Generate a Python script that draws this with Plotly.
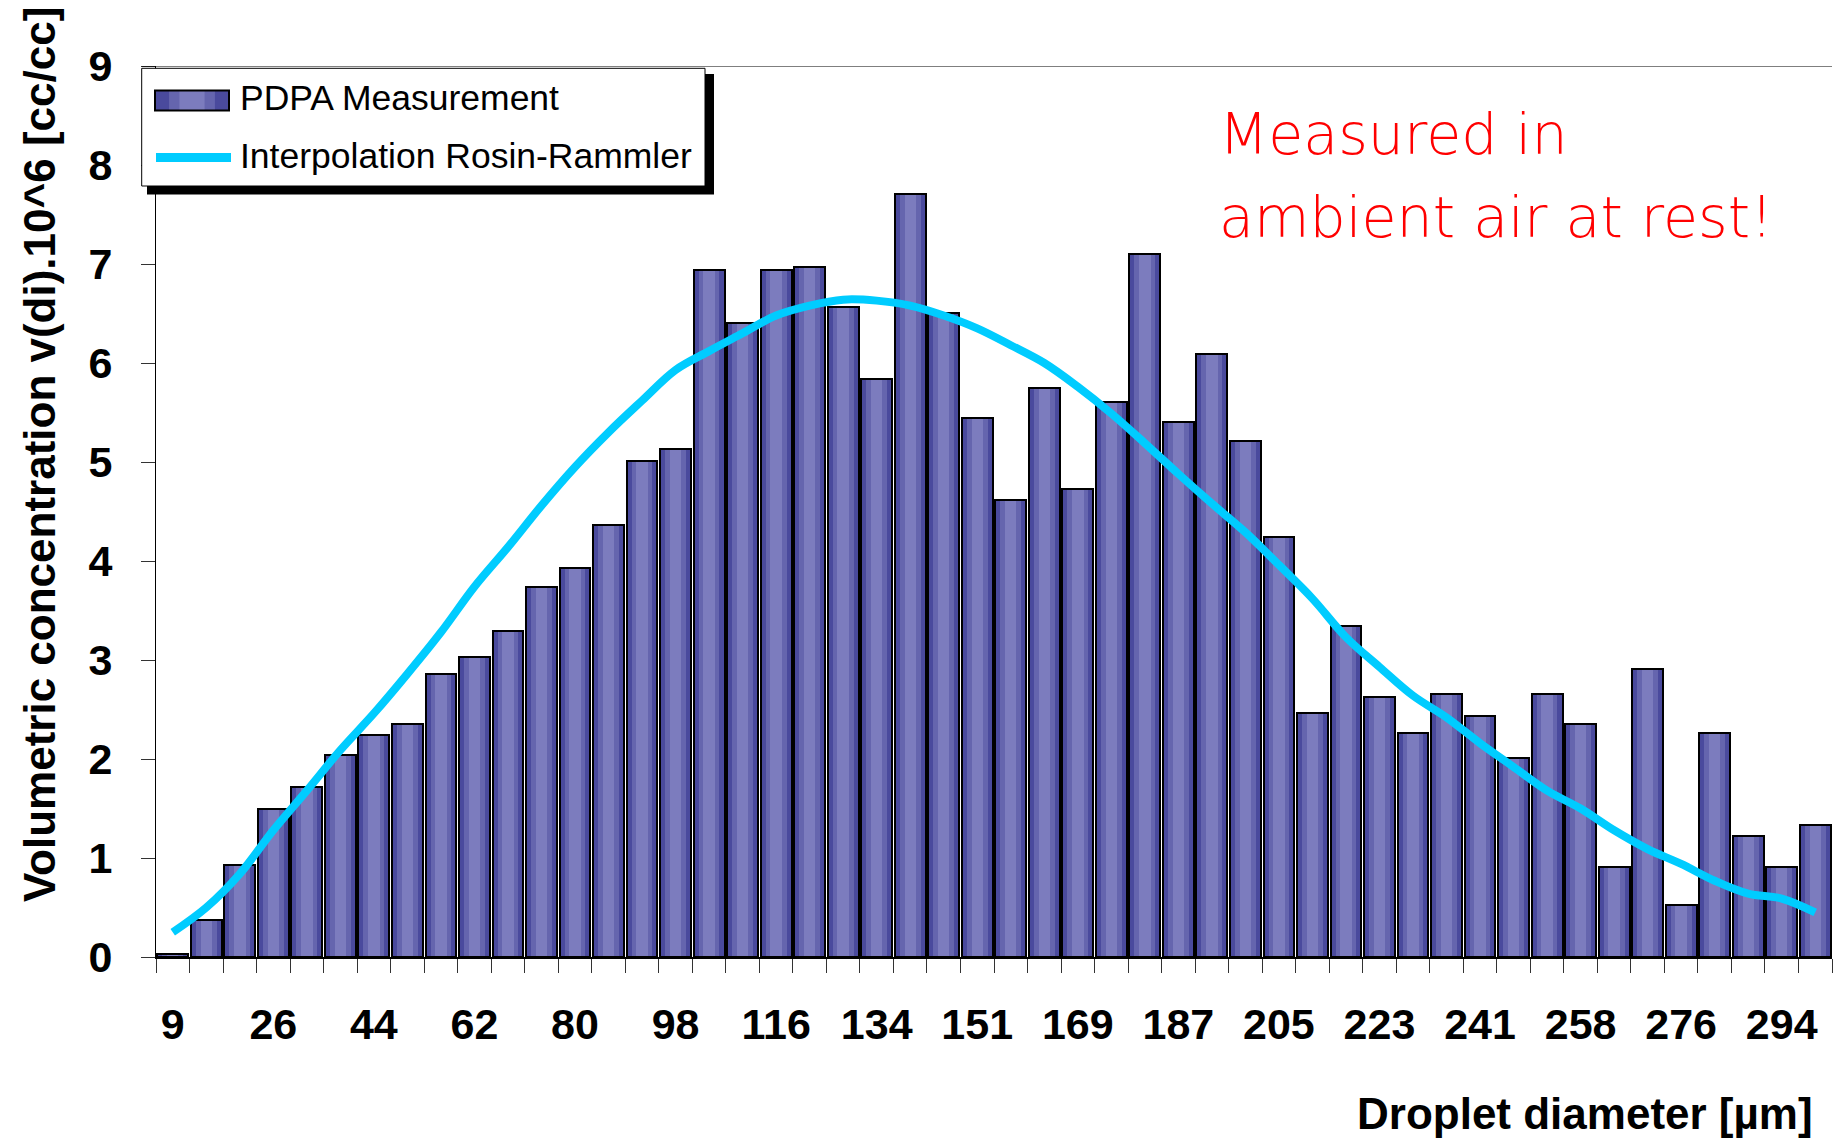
import plotly.graph_objects as go

# Droplet size classes (µm) and measured volumetric concentration per class
diameters = [9, 15, 21, 26, 32, 38, 44, 50, 56, 62, 68, 74, 80, 86, 92, 98, 104,
             110, 116, 122, 128, 134, 140, 145, 151, 157, 163, 169, 175, 181, 187,
             193, 199, 205, 211, 217, 223, 229, 235, 241, 247, 253, 258, 264, 270,
             276, 282, 288, 294, 300]

pdpa = [0.03, 0.37, 0.93, 1.50, 1.72, 2.04, 2.24, 2.35, 2.86, 3.03,
        3.29, 3.74, 3.93, 4.36, 5.01, 5.13, 6.94, 6.40, 6.94, 6.97,
        6.57, 5.84, 7.71, 6.51, 5.44, 4.62, 5.75, 4.73, 5.61, 7.10,
        5.40, 6.09, 5.21, 4.24, 2.46, 3.34, 2.63, 2.26, 2.66, 2.43,
        2.01, 2.66, 2.35, 0.91, 2.91, 0.53, 2.26, 1.22, 0.91, 1.33]

rosin_rammler = [0.25, 0.50, 0.84, 1.28, 1.68, 2.09, 2.46, 2.86, 3.28, 3.74,
                 4.14, 4.56, 4.95, 5.30, 5.62, 5.93, 6.12, 6.30, 6.48, 6.58,
                 6.64, 6.63, 6.58, 6.48, 6.35, 6.18, 6.00, 5.76, 5.49, 5.19,
                 4.88, 4.58, 4.29, 3.96, 3.62, 3.23, 2.93, 2.64, 2.42, 2.16,
                 1.92, 1.68, 1.50, 1.28, 1.09, 0.94, 0.77, 0.64, 0.59, 0.45]

tick_labels = ["9", "26", "44", "62", "80", "98", "116", "134", "151", "169",
               "187", "205", "223", "241", "258", "276", "294"]

pos = list(range(len(diameters)))
tick_pos = pos[::3]

W, H = 1834, 1138
ML, MR, MT, MB = 156, 2, 66, 181
PW, PH = W - ML - MR, H - MT - MB

def px(xp):
    return (xp - ML) / PW

def py(yp):
    return 1 - (yp - MT) / PH

DARK = "#4a4a9d"
MID = "#6565ae"
LIGHT = "#7c7cbe"
CYAN = "#00ccff"
FONT = "Liberation Sans, Arial, sans-serif"

fig = go.Figure()

# shaded bars: dark body, lighter middle band, light centre band, outline on top
for width, colour in [(0.92, DARK), (0.62, MID), (0.34, LIGHT)]:
    fig.add_trace(go.Bar(x=pos, y=pdpa, width=width, marker_color=colour,
                         marker_line_width=0, showlegend=False, hoverinfo="skip"))
fig.add_trace(go.Bar(x=pos, y=pdpa, width=0.92, name="PDPA Measurement",
                     marker=dict(color="rgba(0,0,0,0)",
                                 line=dict(color="black", width=2)),
                     showlegend=False,
                     customdata=diameters,
                     hovertemplate="%{customdata} µm: %{y}<extra></extra>"))

fig.add_trace(go.Scatter(x=pos, y=rosin_rammler, mode="lines",
                         name="Interpolation Rosin-Rammler",
                         line=dict(color=CYAN, width=8, shape="spline", smoothing=1.0),
                         showlegend=False))

shapes = []
# top border of the plot area
shapes.append(dict(type="line", xref="paper", yref="y", x0=px(141.7), x1=1, y0=9, y1=9,
                   line=dict(color="black", width=1)))

# hand-drawn legend box with drop shadow
shapes.append(dict(type="rect", xref="paper", yref="paper",
                   x0=px(147), x1=px(714), y0=py(74), y1=py(194.5),
                   fillcolor="black", line=dict(width=0)))
shapes.append(dict(type="rect", xref="paper", yref="paper",
                   x0=px(141.7), x1=px(705), y0=py(68.3), y1=py(186),
                   fillcolor="white", line=dict(color="black", width=1)))
# bar swatch
sx0, sx1, sy0, sy1 = 155, 229, 90.5, 110.5
scx = (sx0 + sx1) / 2
for frac, colour in [(1.0, DARK), (0.62, MID), (0.34, LIGHT)]:
    half = (sx1 - sx0) * frac / 2
    shapes.append(dict(type="rect", xref="paper", yref="paper",
                       x0=px(scx - half), x1=px(scx + half), y0=py(sy0), y1=py(sy1),
                       fillcolor=colour, line=dict(width=0)))
shapes.append(dict(type="rect", xref="paper", yref="paper",
                   x0=px(sx0), x1=px(sx1), y0=py(sy0), y1=py(sy1),
                   fillcolor="rgba(0,0,0,0)", line=dict(color="black", width=2)))
# line swatch
shapes.append(dict(type="line", xref="paper", yref="paper",
                   x0=px(156), x1=px(231), y0=py(157.5), y1=py(157.5),
                   line=dict(color=CYAN, width=9)))

annotations = [
    dict(text="PDPA Measurement", xref="paper", yref="paper",
         x=px(238), y=py(98), xanchor="left", yanchor="middle", showarrow=False,
         font=dict(family=FONT, size=35.5, color="black")),
    dict(text="Interpolation Rosin-Rammler", xref="paper", yref="paper",
         x=px(238), y=py(156), xanchor="left", yanchor="middle", showarrow=False,
         font=dict(family=FONT, size=35.5, color="black")),
    dict(text="Volumetric concentration v(di).10^6 [cc/cc]", xref="paper", yref="paper",
         x=px(39), y=py(455), xanchor="center", yanchor="middle", textangle=-90,
         showarrow=False, font=dict(family=FONT, size=44, color="black", weight="bold")),
    dict(text="Droplet diameter [µm]", xref="paper", yref="paper",
         x=px(1815), y=py(1113), xanchor="right", yanchor="middle", showarrow=False,
         font=dict(family=FONT, size=44, color="black", weight="bold")),
    dict(text="Measured in", xref="paper", yref="paper",
         x=px(1217), y=py(134), xanchor="left", yanchor="middle", showarrow=False,
         font=dict(family="DejaVu Sans, sans-serif", size=57, color="#ff0000", weight=200)),
    dict(text="ambient air at rest!", xref="paper", yref="paper",
         x=px(1217), y=py(217), xanchor="left", yanchor="middle", showarrow=False,
         font=dict(family="DejaVu Sans, sans-serif", size=57, color="#ff0000", weight=200)),
]

fig.update_layout(
    width=W, height=H,
    margin=dict(l=ML, r=MR, t=MT, b=MB, pad=0),
    paper_bgcolor="white", plot_bgcolor="white",
    barmode="overlay", bargap=0,
    showlegend=False,
    shapes=shapes,
    annotations=annotations,
    xaxis=dict(
        range=[-0.5, len(diameters) - 0.5],
        tickmode="array", tickvals=tick_pos, ticktext=tick_labels,
        ticks="", ticklabelstandoff=28,
        tickfont=dict(family=FONT, size=43, color="black", weight="bold"),
        showline=True, linecolor="black", linewidth=2,
        showgrid=False, zeroline=False,
        minor=dict(ticks="outside", ticklen=14, tickwidth=1, tickcolor="#333333",
                   tickmode="linear", tick0=-0.5, dtick=1, showgrid=False),
    ),
    yaxis=dict(
        range=[0, 9], tickmode="linear", tick0=0, dtick=1,
        ticks="outside", ticklen=14, tickwidth=1, tickcolor="#333333",
        ticklabelstandoff=20,
        tickfont=dict(family=FONT, size=43, color="black", weight="bold"),
        showline=True, linecolor="black", linewidth=1,
        showgrid=False, zeroline=False,
    ),
    yaxis2=dict(
        range=[0, 9], tickmode="linear", tick0=0, dtick=1,
        overlaying="y", anchor="x", side="left",
        ticks="inside", ticklen=14, tickwidth=1, tickcolor="#333333",
        showticklabels=False, showline=False, showgrid=False, zeroline=False,
    ),
)

fig.write_html("out.html")
